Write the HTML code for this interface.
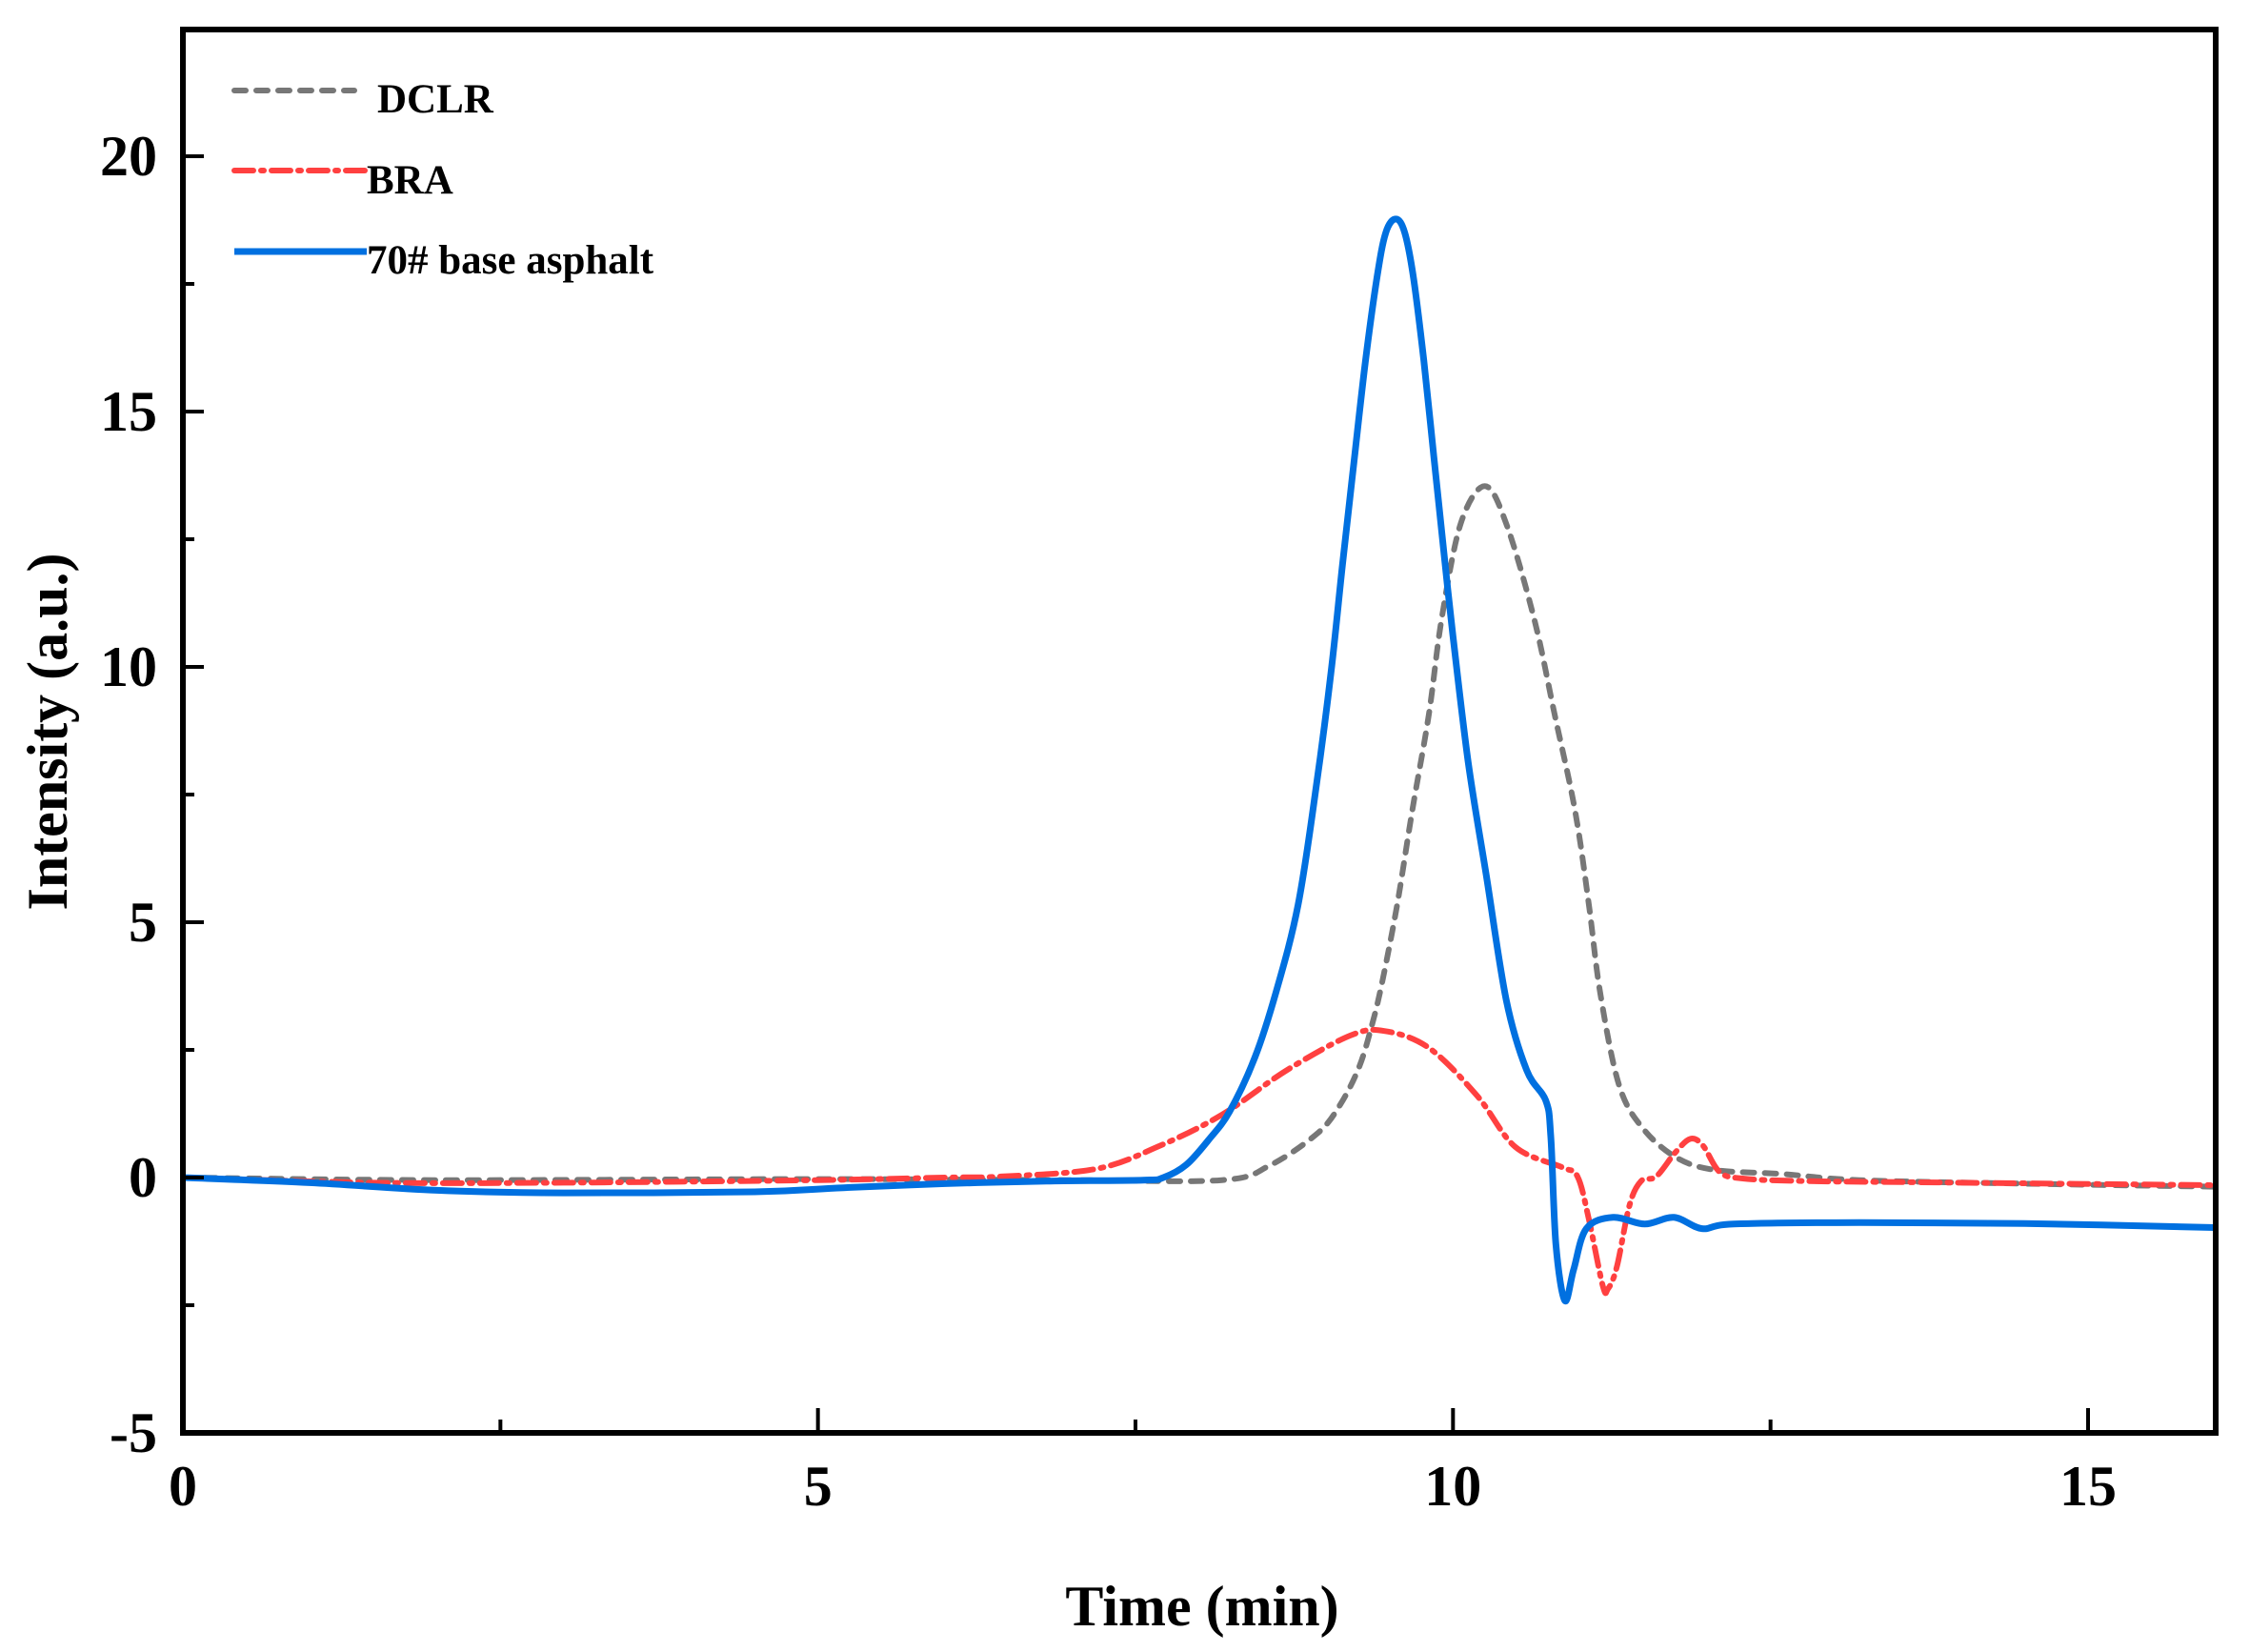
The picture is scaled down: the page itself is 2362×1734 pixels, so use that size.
<!DOCTYPE html>
<html><head><meta charset="utf-8"><style>
html,body{margin:0;padding:0;background:#fff}
svg{display:block}
text{font-family:"Liberation Serif",serif;font-weight:bold;fill:#000}
</style></head><body>
<svg id="s" width="2362" height="1734" viewBox="0 0 2362 1734" xmlns="http://www.w3.org/2000/svg">
<g id="curves"></g>
<rect x="192" y="31" width="2134" height="1473" fill="none" stroke="#000" stroke-width="6"/>
<g stroke="#000" stroke-width="4" id="ticks"></g>
<g font-size="60" text-anchor="middle">
<text x="192" y="1580">0</text><text x="858.7" y="1580">5</text><text x="1525.3" y="1580">10</text><text x="2192" y="1580">15</text>
</g>
<g font-size="60" text-anchor="end">
<text x="165" y="1524">-5</text><text x="165" y="1256">0</text><text x="165" y="988">5</text><text x="165" y="720">10</text><text x="165" y="452">15</text><text x="165" y="184">20</text>
</g>
<text x="1262" y="1706" font-size="60" text-anchor="middle">Time (min)</text>
<text transform="translate(70,768) rotate(-90)" font-size="60" text-anchor="middle">Intensity (a.u.)</text>
<line x1="246" y1="95" x2="372" y2="95" stroke="#777" stroke-width="6" stroke-dasharray="12 11" stroke-linecap="round"/>
<text x="396" y="118" font-size="43">DCLR</text>
<line x1="246" y1="179" x2="385" y2="179" stroke="#ff4040" stroke-width="6" stroke-dasharray="20 8 3 8" stroke-linecap="round"/>
<text x="385" y="203" font-size="43">BRA</text>
<line x1="246" y1="264" x2="385" y2="264" stroke="#0070e0" stroke-width="7"/>
<text x="385" y="287" font-size="43">70# base asphalt</text>
</svg>
<script>
function X(t){return 192+133.333*t}
function Y(v){return 1236-53.6*v}
function path(pts){
 var p=pts.map(function(a){return [X(a[0]),Y(a[1])]});
 var d="M"+p[0][0].toFixed(1)+","+p[0][1].toFixed(1);
 for(var i=0;i<p.length-1;i++){
  var p0=p[i-1]||p[i],p1=p[i],p2=p[i+1],p3=p[i+2]||p2;
  var k=1/6;
  var c1=[p1[0]+(p2[0]-p0[0])*k,p1[1]+(p2[1]-p0[1])*k];
  var c2=[p2[0]-(p3[0]-p1[0])*k,p2[1]-(p3[1]-p1[1])*k];
  d+="C"+c1[0].toFixed(1)+","+c1[1].toFixed(1)+" "+c2[0].toFixed(1)+","+c2[1].toFixed(1)+" "+p2[0].toFixed(1)+","+p2[1].toFixed(1);
 }
 return d;
}
var gray=[[0,0],[2,-0.05],[5,-0.03],[7,-0.05],[8.18,-0.05],[8.56,0.24],[8.93,0.86],[9.11,1.42],[9.26,2.16],[9.36,2.97],[9.44,3.8],[9.56,5.34],[9.68,7.2],[9.81,9.07],[9.91,10.93],[10.06,12.8],[10.25,13.54],[10.42,12.8],[10.64,10.93],[10.8,9.07],[10.96,7.2],[11.07,5.34],[11.16,3.6],[11.31,1.79],[11.5,0.95],[11.76,0.39],[12.06,0.15],[12.59,0.07],[13.2,-0.05],[14.5,-0.12],[16,-0.18]];
var red=[[0,0],[1.5,-0.1],[3,-0.1],[5,-0.05],[6,0],[6.44,0.02],[7.19,0.17],[7.69,0.62],[8.18,1.23],[8.69,2.1],[9.19,2.78],[9.46,2.87],[9.81,2.54],[10.19,1.6],[10.49,0.6],[10.86,0.2],[10.98,0.02],[11.07,-0.82],[11.18,-2.13],[11.22,-2.18],[11.29,-1.75],[11.39,-0.54],[11.48,-0.07],[11.6,0.02],[11.75,0.49],[11.87,0.76],[11.97,0.62],[12.1,0.11],[12.29,-0.02],[12.81,-0.07],[14,-0.1],[16,-0.15]];
var blue=[[0,0],[1,-0.1],[2,-0.25],[3,-0.3],[4.5,-0.28],[5.2,-0.2],[6,-0.12],[6.8,-0.07],[7.56,-0.05],[7.72,0.0],[7.9,0.25],[8.08,0.75],[8.24,1.29],[8.44,2.35],[8.61,3.66],[8.78,5.34],[8.92,7.6],[9.04,9.9],[9.13,12.0],[9.22,14.0],[9.31,15.97],[9.40,17.6],[9.47,18.5],[9.55,18.77],[9.62,18.5],[9.69,17.6],[9.77,16.0],[9.85,14.1],[9.93,12.2],[10.0,10.6],[10.12,8.13],[10.26,5.95],[10.42,3.47],[10.58,2.1],[10.73,1.51],[10.77,0.8],[10.81,-1.3],[10.88,-2.41],[10.95,-1.8],[11.05,-1.0],[11.26,-0.78],[11.51,-0.91],[11.74,-0.78],[11.96,-1.0],[12.21,-0.91],[13.2,-0.88],[14.5,-0.9],[16,-0.98]];
var g=document.getElementById("curves");
function add(pts,st){var e=document.createElementNS("http://www.w3.org/2000/svg","path");e.setAttribute("d",path(pts));e.setAttribute("fill","none");for(var k in st)e.setAttribute(k,st[k]);g.appendChild(e);}
add(gray,{stroke:"#777","stroke-width":6,"stroke-dasharray":"12 11","stroke-linecap":"round"});
add(red,{stroke:"#ff4040","stroke-width":6,"stroke-dasharray":"20 8 3 8","stroke-linecap":"round"});
add(blue,{stroke:"#0070e0","stroke-width":7,"stroke-linejoin":"round"});
var tk=document.getElementById("ticks"),s="";
for(var t=0;t<=16;t+=2.5){var x=X(t),L=(Math.abs(t%5)<0.01)?26:14;s+='<line x1="'+x+'" y1="1504" x2="'+x+'" y2="'+(1504-L)+'"/>';}
for(var v=-5;v<=22.5;v+=2.5){var y=Y(v),L=(Math.abs(v%5)<0.01)?22:12;s+='<line x1="192" y1="'+y+'" x2="'+(192+L)+'" y2="'+y+'"/>';}
tk.innerHTML=s;
</script>
</body></html>
